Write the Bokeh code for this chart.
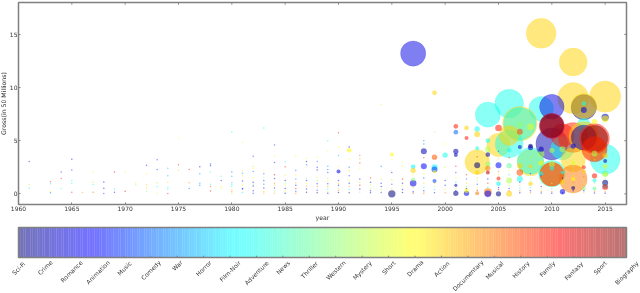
import numpy as np
from bokeh.plotting import figure
from bokeh.embed import file_html
from bokeh.resources import INLINE
from bokeh.models import ColumnDataSource, FixedTicker
from bokeh.core.properties import value

genres = ["Sci-Fi", "Crime", "Romance", "Animation", "Music", "Comedy", "War", "Horror",
          "Film-Noir", "Adventure", "News", "Thriller", "Western", "Mystery", "Short", "Drama",
          "Action", "Documentary", "Musical", "History", "Family", "Fantasy", "Sport", "Biography"]
x_ticks = [1960, 1965, 1970, 1975, 1980, 1985, 1990, 1995, 2000, 2005, 2010, 2015]
y_ticks = [0, 5, 10, 15]

# large films, back to front: year, gross (50M units), bubble area, genre index
big_year  = [2006, 2004, 2009, 2009, 2012, 2015, 2012, 1997, 2010, 2013, 2013, 2007, 2007,
             2015, 2005, 2006, 2006, 2003, 2008, 2008, 2010, 2011, 2012, 2012, 2013, 2011, 2013, 2014, 2010,
             2013, 2014, 2012, 2010, 2010, 2010, 2010, 2010, 2014, 2014]
big_gross = [8.5, 7.45, 15.1, 8.0, 12.4, 9.15, 9.0, 13.2, 8.2, 8.15, 8.25, 6.6, 6.6,
             3.25, 4.6, 4.7, 5.5, 3.0, 2.95, 3.1, 4.7, 4.3, 5.3, 3.2, 6.5, 5.5, 5.4, 4.2, 1.9,
             5.3, 5.2, 1.4, 1.85, 1.85, 6.4, 6.4, 6.4, 5.2, 4.2]
big_area  = [822, 640, 900, 610, 784, 980, 980, 640, 610, 640, 640, 1200, 1067,
             900, 544, 784, 400, 610, 711, 711, 1024, 544, 900, 600, 178, 544, 900, 544, 711,
             640, 900, 784, 576, 576, 610, 640, 544, 711, 640]
big_genre = [9, 9, 16, 9, 16, 16, 16, 2, 2, 0, 16, 16, 9,
             9, 16, 9, 16, 16, 16, 9, 1, 9, 20, 16, 9, 20, 16, 16, 9,
             1, 20, 18, 16, 20, 2, 20, 23, 23, 20]

# mid-sized films
mid_year  = [1990, 1991, 1995, 1995, 1997, 1997, 1997, 1997, 1998, 1998, 1999, 1999, 1999, 1999, 1999, 1999,
             2000, 2001, 2001, 2001, 2001, 2001, 2001, 2002, 2002, 2002, 2002,
             2003, 2003, 2003, 2003, 2003, 2003, 2004, 2004, 2004, 2004, 2004, 2004, 2004, 2004,
             2005, 2005, 2005, 2005, 2005, 2006, 2006, 2006, 2006,
             2007, 2007, 2007, 2007, 2007, 2007, 2008, 2008, 2008, 2008, 2008,
             2009, 2009, 2009, 2009, 2010, 2010, 2010, 2011, 2011, 2011, 2011,
             2012, 2012, 2012, 2012, 2013, 2013, 2013, 2013, 2013, 2014, 2014, 2014, 2014, 2014,
             2015, 2015, 2015, 2015, 2015, 2015, 2015, 2015, 2015, 2015]
mid_gross = [2.1, 4.1, 3.7, 0.0, 1.0, 2.55, 2.2, 1.35, 4.0, 2.6, 9.5, 3.45, 2.5, 2.3, 2.1, 1.2,
             3.65, 6.35, 5.8, 4.0, 3.65, 0.8, 0.05, 6.2, 5.25, 0.05, 0.3,
             6.1, 5.6, 4.3, 2.7, 2.0, 0.05, 5.0, 4.2, 3.7, 2.8, 2.4, 2.0, 0.15, 0.0,
             6.2, 2.7, 1.45, 0.95, 0.0, 1.25, 0.0, 2.65, 4.1,
             5.85, 6.5, 2.65, 2.0, 1.4, 4.4, 6.3, 4.35, 0.95, 4.5, 2.6,
             3.75, 2.9, 1.9, 4.2, 2.8, 2.4, 4.1, 0.2, 4.2, 2.0, 1.1,
             1.4, 0.55, 4.5, 2.9, 8.5, 7.9, 2.5, 2.1, 0.5, 6.8, 3.8, 1.7, 1.25, 0.5,
             7.2, 7.05, 3.6, 3.1, 2.6, 1.9, 1.85, 1.05, 0.75, 0.65]
mid_area  = [16, 22, 16, 54, 44, 22, 28, 16, 36, 36, 22, 28, 36, 36, 11, 16,
             28, 22, 22, 28, 16, 11, 28, 22, 16, 28, 22,
             28, 36, 16, 36, 22, 16, 22, 36, 22, 28, 28, 16, 64, 44,
             44, 36, 16, 22, 28, 36, 36, 28, 22,
             36, 36, 28, 44, 36, 16, 44, 28, 22, 22, 16,
             44, 28, 22, 28, 36, 22, 28, 28, 36, 16, 22,
             22, 16, 28, 22, 22, 36, 16, 16, 16, 28, 36, 28, 16, 16,
             54, 44, 28, 16, 22, 36, 28, 36, 22, 36]
mid_genre = [2, 15, 15, 0, 2, 8, 16, 12, 1, 3, 16, 19, 8, 4, 15, 4,
             9, 20, 5, 1, 1, 1, 0, 16, 20, 2, 15,
             9, 16, 9, 0, 16, 18, 9, 13, 0, 12, 18, 22, 18, 3,
             20, 3, 20, 8, 0, 13, 16, 11, 9,
             19, 12, 16, 19, 9, 1, 14, 2, 16, 0, 16,
             13, 15, 8, 1, 13, 9, 13, 2, 13, 9, 16,
             15, 0, 2, 14, 9, 2, 20, 16, 12, 15, 13, 20, 9, 11,
             1, 15, 16, 1, 14, 9, 15, 0, 8, 21]

# smallest films, one row per year; gross values and genre index of each dot
dot_gross = {
    1961: [3.05, 0.88, 0.55], 1963: [1.15, 0.95, 0.25, 0.1], 1964: [2.05, 1.45, 0.5],
    1965: [3.25, 2.25, 1.25, 1.0, 0.15], 1966: [0.12], 1967: [2.1, 1.1, 0.88, 0.15],
    1968: [1.12, 0.53, 0.03], 1969: [2.05, 0.45, 0.15], 1970: [2.1, 0.25], 1971: [1.0, 0.85],
    1972: [2.7, 1.9, 0.85, 0.55, 0.2], 1973: [3.2, 2.3, 1.05, 0.7, 0.03],
    1974: [2.4, 1.7, 1.1, 0.6, 0.4, 0.03], 1975: [5.2, 2.75, 2.25], 1976: [2.3, 1.05, 0.5],
    1977: [2.55, 1.9, 1.0, 0.8], 1978: [2.8, 2.65, 2.05, 0.9, 0.7, 0.28], 1979: [1.65, 1.25, 0.7, 0.55],
    1980: [5.8, 2.05, 1.65, 1.05, 0.85, 0.7, 0.4, 0.2, 0.03],
    1981: [4.85, 2.15, 1.95, 1.7, 1.2, 0.85, 0.5, 0.45, 0.12],
    1982: [3.55, 2.6, 2.4, 2.1, 1.55, 1.1, 0.9, 0.75, 0.3, 0.05],
    1983: [6.2, 2.15, 1.9, 1.55, 1.25, 0.9, 0.55, 0.25, 0.05],
    1984: [4.6, 3.6, 2.95, 1.8, 1.45, 1.0, 0.8, 0.55, 0.3, 0.05],
    1985: [3.0, 2.55, 1.75, 1.25, 1.0, 0.8, 0.5, 0.28, 0.05],
    1986: [3.55, 2.2, 1.8, 1.4, 1.05, 0.8, 0.5, 0.25, 0.05],
    1987: [3.35, 3.05, 2.75, 1.5, 1.25, 1.0, 0.75, 0.45, 0.15],
    1988: [3.45, 3.05, 2.5, 2.25, 1.55, 1.25, 0.95, 0.7, 0.35, 0.1],
    1989: [5.0, 3.95, 2.6, 2.3, 2.0, 1.45, 1.2, 0.95, 0.7, 0.45, 0.2, 0.05],
    1990: [5.75, 4.4, 3.6, 2.6, 1.25, 1.0, 0.8, 0.55, 0.35, 0.12],
    1991: [4.4, 3.3, 2.5, 2.2, 1.7, 1.3, 1.0, 0.7, 0.4, 0.1],
    1992: [3.6, 3.3, 2.9, 2.4, 1.4, 1.1, 0.8, 0.45, 0.15],
    1993: [1.5, 1.1, 0.8, 0.5, 0.3, 0.1], 1994: [8.4, 2.6, 1.4, 1.0, 0.7, 0.4, 0.12],
    1995: [3.2, 2.0, 1.3, 0.9, 0.5, 0.3],
    1996: [3.0, 2.6, 1.4, 1.0, 0.75, 0.4, 0.12], 1997: [0.6, 0.2, 0.05, 1.8],
    1998: [5.0, 4.7, 3.4, 1.9, 1.5, 1.0, 0.6, 0.3, 0.05],
    1999: [5.8, 3.5, 1.0, 0.7, 0.4, 0.1], 2000: [4.7, 2.5, 1.25, 0.8, 0.4, 0.1],
    2001: [2.6, 2.0, 1.5, 1.1, 0.5, 0.3], 2002: [1.8, 1.4, 1.0, 0.7, 0.5],
    2003: [3.5, 1.5, 1.2, 0.9, 0.6, 0.35], 2004: [3.3, 1.4, 1.0, 0.6],
    2005: [4.0, 3.3, 2.1, 1.8, 1.1, 0.6, 0.4],
    2006: [3.4, 2.2, 1.8, 0.8, 0.5, 0.3], 2007: [3.3, 1.9, 1.1, 0.8, 0.55, 0.3, 0.1],
    2008: [3.4, 1.9, 1.5, 1.2, 0.6, 0.3, 0.1], 2009: [1.7, 1.3, 1.0, 0.7, 0.45, 0.25, 0.08],
    2010: [1.0, 0.7, 0.45, 0.2, 0.05], 2011: [1.5, 1.2, 0.9, 0.65, 0.1],
    2012: [3.2, 2.6, 2.1, 1.7, 1.1, 0.8, 0.3, 0.1],
    2013: [3.6, 2.9, 1.6, 1.2, 0.9, 0.3, 0.1], 2014: [3.2, 2.3, 1.0, 0.25, 0.08],
    2015: [2.3, 1.4, 0.4, 0.2, 0.05],
}
dot_genre = {
    1961: [3, 16, 8], 1963: [20, 8, 15, 5], 1964: [4, 20, 10],
    1965: [1, 4, 9, 9, 20], 1966: [17], 1967: [15, 16, 9, 19],
    1968: [1, 1, 4], 1969: [21, 8, 3], 1970: [15, 21], 1971: [14, 12],
    1972: [3, 15, 16, 16, 12], 1973: [4, 4, 16, 9, 15],
    1974: [7, 6, 16, 8, 9, 20], 1975: [15, 20, 16], 1976: [20, 18, 5],
    1977: [1, 6, 6, 5], 1978: [4, 2, 9, 9, 19, 20], 1979: [9, 2, 15, 15],
    1980: [8, 5, 6, 7, 8, 9, 16, 18, 15],
    1981: [15, 15, 6, 14, 3, 15, 4, 3, 8],
    1982: [4, 16, 15, 5, 15, 1, 12, 3, 2, 4],
    1983: [8, 15, 5, 12, 3, 5, 1, 16, 17],
    1984: [4, 15, 4, 21, 3, 18, 16, 0, 12, 17],
    1985: [9, 20, 15, 0, 12, 15, 1, 15, 1],
    1986: [15, 5, 15, 6, 17, 3, 20, 4, 18],
    1987: [15, 0, 5, 12, 3, 15, 17, 2, 0],
    1988: [15, 5, 3, 1, 15, 12, 2, 18, 4, 0],
    1989: [9, 15, 6, 5, 4, 12, 15, 3, 17, 8, 14, 2],
    1990: [20, 15, 7, 15, 3, 16, 1, 12, 18, 0],
    1991: [3, 15, 5, 16, 4, 14, 2, 17, 8, 0],
    1992: [19, 17, 20, 15, 3, 16, 21, 1, 12],
    1993: [20, 1, 14, 13, 2, 0], 1994: [15, 5, 16, 3, 1, 13, 4],
    1995: [15, 1, 16, 4, 12, 18],
    1996: [14, 15, 21, 1, 13, 3, 0], 1997: [16, 1, 19, 15],
    1998: [5, 5, 20, 15, 4, 16, 8, 1, 19],
    1999: [12, 15, 16, 13, 8, 2], 2000: [15, 15, 1, 2, 14, 18],
    2001: [20, 4, 15, 8, 16, 3], 2002: [20, 5, 15, 12, 1],
    2003: [20, 16, 13, 4, 15, 21], 2004: [15, 3, 20, 8],
    2005: [4, 16, 18, 15, 13, 3, 21],
    2006: [20, 15, 8, 14, 3, 18], 2007: [15, 13, 2, 16, 9, 18, 1],
    2008: [16, 4, 15, 13, 9, 1, 18], 2009: [4, 15, 12, 1, 14, 18, 2],
    2010: [15, 13, 8, 18, 1], 2011: [1, 15, 14, 16, 2],
    2012: [13, 12, 14, 15, 18, 13, 1, 16],
    2013: [12, 14, 18, 13, 15, 2, 16], 2014: [15, 14, 12, 18, 1],
    2015: [16, 12, 14, 18, 2],
}

jet_stops = [0.0, 0.11, 0.125, 0.35, 0.375, 0.64, 0.66, 0.89, 0.91, 1.0]
jet_r = [0, 0, 0, 0, 0.02, 0.98, 1, 1, 0.91, 0.5]
jet_g = [0, 0, 0, 0.98, 1, 1, 0.98, 0.01, 0, 0]
jet_b = [0.5, 1, 1, 1, 0.98, 0.02, 0, 0, 0, 0]


def jet(t):
    rgb = [np.interp(t, jet_stops, c) for c in (jet_r, jet_g, jet_b)]
    return "#%02x%02x%02x" % tuple(int(round(v * 255)) for v in rgb)


def genre_colors(idx):
    return [jet(i / (len(genres) - 1)) for i in idx]


FONT = "DejaVu Sans"
GRAY = "#808080"
TXT = "#333333"

p = figure(frame_width=608, frame_height=202, x_range=(1960, 2017), y_range=(-1, 18),
           output_backend="svg", toolbar_location=None, width=644, height=222,
           min_border_left=22, min_border_right=14, min_border_top=2, min_border_bottom=18, margin=0,
           styles={"position": "fixed", "left": "-4px", "top": "0px"})
p.grid.visible = False
p.outline_line_color = GRAY
p.outline_line_width = 1.5
p.xaxis.ticker = FixedTicker(ticks=x_ticks)
p.yaxis.ticker = FixedTicker(ticks=y_ticks)
p.xaxis.axis_label = "year"
p.yaxis.axis_label = "Gross(in 50 Millions)"
for ax in (p.xaxis[0], p.yaxis[0]):
    ax.axis_line_color = None
    ax.major_tick_in = 2
    ax.major_tick_out = 0
    ax.minor_tick_line_color = None
    ax.major_tick_line_color = GRAY
    ax.major_label_text_font = FONT
    ax.major_label_text_font_size = "6px"
    ax.major_label_text_color = TXT
    ax.major_label_standoff = 1
    ax.axis_label_text_font = FONT
    ax.axis_label_text_font_size = "6.2px"
    ax.axis_label_text_font_style = "normal"
    ax.axis_label_text_color = TXT
    ax.axis_label_standoff = 0

# inward ticks on the top and right edges of the frame
p.segment(x_ticks, [18] * len(x_ticks), x_ticks, [17.8] * len(x_ticks), line_color=GRAY, line_width=1)
p.segment([2017] * len(y_ticks), y_ticks, [2016.8] * len(y_ticks), y_ticks, line_color=GRAY, line_width=1)

big = ColumnDataSource(dict(x=big_year, y=big_gross, s=np.sqrt(big_area), c=genre_colors(big_genre)))
p.scatter("x", "y", size="s", color="c", fill_alpha=0.5, line_alpha=0.25, line_width=0.5, source=big)
mid = ColumnDataSource(dict(x=mid_year, y=mid_gross, s=np.sqrt(mid_area), c=genre_colors(mid_genre)))
p.scatter("x", "y", size="s", color="c", fill_alpha=0.55, line_color=None, source=mid)

dx, dy, dc = [], [], []
for yr, vals in dot_gross.items():
    for v, g in zip(vals, dot_genre[yr]):
        dx.append(yr)
        dy.append(v)
        dc.append(g)
dots = ColumnDataSource(dict(x=dx, y=dy, c=genre_colors(dc)))
p.scatter("x", "y", size=1.5, color="c", fill_alpha=0.5, line_color=None, source=dots)

# colour bar: the frame fills its whole figure so that the slanted names stay inside it
unit = 608 / 23
bar = figure(width=640, height=71, output_backend="svg", toolbar_location=None,
             x_range=(-18 / unit, 23 + 14 / unit), y_range=(-36 / 30, 1 + 5 / 30),
             x_axis_location=None, y_axis_location=None, margin=0,
             min_border_left=0, min_border_right=0, min_border_top=0, min_border_bottom=0,
             styles={"position": "fixed", "left": "0px", "top": "222px"})
bar.grid.visible = False
bar.outline_line_color = None
edges = np.linspace(0, 23, 257)
bar.quad(left=edges[:-1], right=edges[1:], bottom=0, top=1,
         fill_color=[jet(t) for t in np.linspace(0, 1, 256)], fill_alpha=0.55, line_color=None)
bar.quad(left=[0], right=[23], bottom=[0], top=[1], fill_color=None, line_color=GRAY, line_width=1.5)
tick_pos = list(range(len(genres)))
bar.segment(tick_pos, [0] * len(genres), tick_pos, [0.06] * len(genres), line_color=GRAY, line_width=1)


def text_width(s, fs=6.0):
    narrow = "ilfjtrI-"
    return sum((0.34 if ch in narrow else 0.62) * fs for ch in s)


depth = [2.5 + 0.707 * (text_width(g) + 6.0) / 2 for g in genres]
names = ColumnDataSource(dict(x=tick_pos, y=[0] * len(genres), t=genres, o=depth))
bar.text("x", "y", text="t", y_offset="o", angle=45, angle_units="deg", text_align="center",
         text_baseline="middle", text_font=value(FONT), text_font_size="6px", text_color=TXT, source=names)

open("out.html", "w").write(file_html([p, bar], INLINE))
